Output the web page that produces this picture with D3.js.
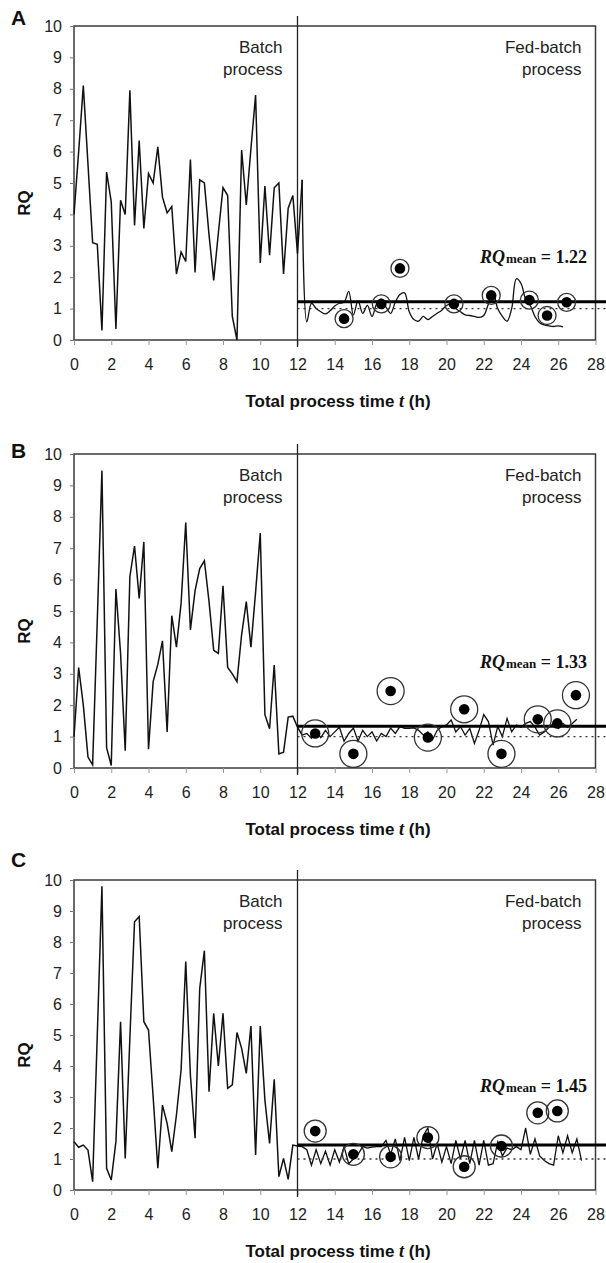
<!DOCTYPE html>
<html>
<head>
<meta charset="utf-8">
<script src="https://cdn.jsdelivr.net/npm/d3@7"></script>
<style>
  html, body { margin: 0; padding: 0; background: #fff; }
  svg { display: block; }
</style>
</head>
<body>
<svg id="chart" width="606" height="1263"></svg>
<script>
// ---------------- DATA ----------------
const xTickLabels = [0, 2, 4, 6, 8, 10, 12, 14, 16, 18, 20, 22, 24, 26, 28];
const yTickLabels = [0, 1, 2, 3, 4, 5, 6, 7, 8, 9, 10];
const panelLetters = ["A", "B", "C"];
const phaseLabels = [["Batch", "process"], ["Fed-batch", "process"]];
const sampleStep = 0.25;     // h between RQ samples, starting at t = 0
const feedStart = 12;        // h, switch from batch to fed-batch

// Panel A: RQ every 0.25 h from t = 0
const rqA = [4.0, 6.0, 8.1, 5.6, 3.1, 3.05, 0.3, 5.35, 4.4, 0.35, 4.45, 4.0, 7.95, 3.65, 6.35, 3.55,
  5.3, 5.0, 6.15, 4.55, 4.05, 4.25, 2.1, 2.8, 2.5, 5.75, 2.15, 5.1, 5.0, 3.35, 1.9, 3.4,
  4.85, 4.6, 0.75, 0.0, 6.05, 4.3, 6.1, 7.8, 2.45, 4.9, 2.7, 4.85, 5.0, 2.1, 4.2, 4.6,
  2.75, 5.1,
  0.58, 1.17, 1.0, 0.9, 0.83, 0.93, 1.08, 1.17, 1.2, 1.55, 0.8, 1.25, 0.85, 1.1, 0.75, 1.15,
  1.3, 1.05, 0.85, 1.2, 1.45, 1.5, 0.9, 0.65, 0.6, 0.75, 0.65, 0.75, 0.85, 0.95, 1.1, 1.15,
  1.0, 0.9, 0.8, 0.78, 0.75, 0.72, 0.78, 1.15, 1.5, 1.0, 0.75, 0.6, 1.0, 1.95, 1.8, 1.3,
  1.1, 0.75, 0.55, 0.48, 0.45, 0.43, 0.45, 0.42];
// Panel B
const rqB = [1.0, 3.2, 2.0, 0.35, 0.1, 4.7, 9.47, 0.65, 0.08, 5.7, 3.65, 0.55, 6.1, 7.07, 5.4, 7.2,
  0.6, 2.75, 3.3, 4.05, 1.15, 4.85, 3.85, 5.25, 7.82, 4.4, 5.65, 6.35, 6.6, 5.3, 3.75, 3.65,
  5.8, 3.2, 3.0, 2.75, 4.25, 5.3, 3.85, 5.6, 7.48, 1.7, 1.25, 3.28, 0.45, 0.5, 1.62, 1.65,
  1.3,
  1.05, 1.1, 0.95, 1.15, 0.97, 1.2, 1.0, 1.15, 1.3, 0.85, 1.1, 1.27, 0.85, 1.2, 1.0, 1.15,
  0.86, 1.1, 1.0, 1.27, 1.1, 1.32, 1.26, 1.26, 1.28, 1.2, 1.05, 1.15, 0.9, 1.2, 1.32, 1.37,
  1.53, 1.15, 1.32, 1.05, 1.26, 0.78, 1.2, 1.7, 1.48, 0.73, 1.32, 1.0, 1.58, 1.15, 1.37, 1.3,
  1.42, 1.48, 1.3, 1.05, 1.15, 1.3, 1.42, 1.26, 1.42, 1.3, 1.42, 1.55];
// Panel C
const rqC = [1.56, 1.38, 1.45, 1.29, 0.27, 5.0, 9.8, 0.7, 0.32, 1.56, 5.43, 1.02, 4.9, 8.65, 8.82, 5.43,
  5.16, 3.0, 0.7, 2.74, 2.15, 1.24, 2.42, 3.87, 7.37, 3.7, 1.67, 6.5, 7.72, 3.17, 5.7, 4.0,
  5.7, 3.28, 3.39, 5.08, 4.57, 3.76, 5.29, 1.13, 5.29, 2.9, 1.5, 3.57, 0.43, 1.02, 0.34, 1.45,
  1.42,
  1.4, 1.3, 0.8, 1.3, 0.85, 1.25, 0.8, 1.3, 0.9, 1.4, 0.85, 1.0, 1.15, 1.4, 1.35, 1.38,
  1.4, 1.4, 1.6, 1.15, 1.65, 0.95, 1.7, 0.95, 1.7, 1.0, 1.75, 2.0, 1.0, 1.5, 0.9, 1.4,
  0.85, 1.6, 1.0, 1.6, 0.85, 1.6, 0.8, 1.6, 0.8, 0.85, 1.55, 1.1, 1.35, 1.3, 1.4, 1.3,
  2.0, 1.15, 1.65, 1.1, 0.95, 0.85, 0.8, 1.75, 1.2, 1.75, 1.2, 1.65, 0.95];

// Circled (marked) RQ points
const markTA = [14.5, 16.5, 17.5, 20.4, 22.4, 24.45, 25.4, 26.45];
const markRqA = [0.68, 1.15, 2.28, 1.15, 1.42, 1.27, 0.78, 1.2];
const markTB = [12.95, 15, 17, 19, 20.95, 22.95, 24.9, 25.95, 26.95];
const markRqB = [1.1, 0.45, 2.45, 0.97, 1.87, 0.45, 1.55, 1.42, 2.32];
const markTC = [12.95, 15, 17, 19, 20.95, 22.95, 24.9, 25.95];
const markRqC = [1.9, 1.15, 1.07, 1.69, 0.75, 1.42, 2.49, 2.55];

const rqMeans = [1.22, 1.33, 1.45];
const rqReference = 1;

// ---------------- LAYOUT ----------------
const W = 606;
const plotLeft = 74, plotRight = 595.5;
const panels = [
  { rq: rqA, mt: markTA, mr: markRqA, top: 26,  bottom: 340,  ring: 9,    smoothFed: true,  meanLabelUp: 77,  letterY: 25 },
  { rq: rqB, mt: markTB, mr: markRqB, top: 454, bottom: 768,  ring: 13.5, smoothFed: false, meanLabelUp: 100, letterY: 458 },
  { rq: rqC, mt: markTC, mr: markRqC, top: 880, bottom: 1190, ring: 11,   smoothFed: false, meanLabelUp: 98,  letterY: 867 }
];

const svg = d3.select("#chart");
const sans = "'Liberation Sans', Arial, sans-serif";
const serif = "'Liberation Serif', 'Times New Roman', serif";

const x = d3.scaleLinear().domain([0, 28]).range([plotLeft, plotRight]);

panels.forEach((p, pi) => {
  const y = d3.scaleLinear().domain([0, 10]).range([p.bottom, p.top]);
  const g = svg.append("g");

  // frame
  g.append("rect")
    .attr("x", plotLeft).attr("y", p.top)
    .attr("width", plotRight - plotLeft).attr("height", p.bottom - p.top)
    .attr("fill", "none").attr("stroke", "#3a3a3a").attr("stroke-width", 1.5);

  // y axis
  const ya = g.append("g").attr("transform", `translate(${plotLeft},0)`)
    .call(d3.axisLeft(y).tickValues(yTickLabels).tickSize(4).tickPadding(8).tickFormat(d3.format("d")));
  ya.select(".domain").remove();
  ya.selectAll(".tick line").attr("stroke", "#777").attr("stroke-width", 1);
  ya.selectAll("text").attr("font-family", sans).attr("font-size", 16).attr("fill", "#222");

  // x axis
  const xa = g.append("g").attr("transform", `translate(0,${p.bottom})`)
    .call(d3.axisBottom(x).tickValues(xTickLabels).tickSize(5).tickPadding(14).tickFormat(d3.format("d")));
  xa.select(".domain").remove();
  xa.selectAll(".tick line").attr("stroke", "#999").attr("stroke-width", 1);
  xa.selectAll("text").attr("font-family", sans).attr("font-size", 16).attr("fill", "#222");

  // x title
  const xt = g.append("text")
    .attr("x", 338).attr("y", p.bottom + 67)
    .attr("text-anchor", "middle")
    .attr("font-family", sans).attr("font-size", 17).attr("font-weight", "bold").attr("fill", "#111");
  xt.append("tspan").text("Total process time ");
  xt.append("tspan").attr("font-style", "italic").attr("font-family", serif).attr("font-size", 18).text("t");
  xt.append("tspan").text(" (h)");

  // y title
  const yc = (p.top + p.bottom) / 2 + 20;
  g.append("text")
    .attr("transform", `translate(30,${yc}) rotate(-90)`)
    .attr("text-anchor", "middle")
    .attr("font-family", sans).attr("font-size", 17).attr("font-weight", "bold").attr("fill", "#111")
    .text("RQ");

  // panel letter
  g.append("text")
    .attr("x", 11).attr("y", p.letterY)
    .attr("font-family", sans).attr("font-size", 21).attr("font-weight", "bold").attr("fill", "#111")
    .text(panelLetters[pi]);

  // phase separator at t = 12
  g.append("line")
    .attr("x1", x(feedStart)).attr("x2", x(feedStart))
    .attr("y1", p.top - 10).attr("y2", p.bottom + 7)
    .attr("stroke", "#222").attr("stroke-width", 1.3);

  // phase labels
  [[x(feedStart) - 15, phaseLabels[0]], [plotRight - 14, phaseLabels[1]]].forEach(([lx, lines]) => {
    lines.forEach((ln, li) => {
      g.append("text")
        .attr("x", lx).attr("y", p.top + 27 + li * 21.5)
        .attr("text-anchor", "end")
        .attr("font-family", sans).attr("font-size", 17).attr("fill", "#222")
        .text(ln);
    });
  });

  // data line
  const pts = p.rq.map((v, i) => [i * sampleStep, v]);
  const splitIdx = Math.round(feedStart / sampleStep) + 1;
  const batchPts = pts.slice(0, splitIdx + 1);
  const fedPts = pts.slice(splitIdx);
  const lineLin = d3.line().x(d => x(d[0])).y(d => y(d[1]));
  const lineFed = d3.line().x(d => x(d[0])).y(d => y(d[1]))
    .curve(p.smoothFed ? d3.curveCatmullRom.alpha(0.5) : d3.curveLinear);
  g.append("path").attr("d", lineLin(batchPts))
    .attr("fill", "none").attr("stroke", "#111").attr("stroke-width", 1.5).attr("stroke-linejoin", "miter");
  g.append("path").attr("d", lineFed(fedPts))
    .attr("fill", "none").attr("stroke", "#111").attr("stroke-width", 1.3);

  // reference line RQ = 1 (dotted)
  g.append("line")
    .attr("x1", x(feedStart)).attr("x2", W)
    .attr("y1", y(rqReference)).attr("y2", y(rqReference))
    .attr("stroke", "#333").attr("stroke-width", 1.3).attr("stroke-dasharray", "2,4");

  // mean line
  g.append("line")
    .attr("x1", x(feedStart)).attr("x2", W)
    .attr("y1", y(rqMeans[pi])).attr("y2", y(rqMeans[pi]))
    .attr("stroke", "#000").attr("stroke-width", 3);

  // markers
  const marks = p.mt.map((t, i) => [t, p.mr[i]]);
  g.selectAll(".ring").data(marks).enter().append("circle")
    .attr("cx", d => x(d[0])).attr("cy", d => y(d[1])).attr("r", p.ring)
    .attr("fill", "none").attr("stroke", "#333").attr("stroke-width", 1.3);
  g.selectAll(".dot").data(marks).enter().append("circle")
    .attr("cx", d => x(d[0])).attr("cy", d => y(d[1])).attr("r", 5.3)
    .attr("fill", "#000");

  // mean label
  const mt = g.append("text")
    .attr("x", 587).attr("y", p.bottom - p.meanLabelUp)
    .attr("text-anchor", "end")
    .attr("font-family", serif).attr("font-weight", "bold").attr("font-size", 18).attr("fill", "#111");
  mt.append("tspan").attr("font-style", "italic").text("RQ");
  mt.append("tspan").attr("font-size", 13).attr("dx", 1).text("mean");
  mt.append("tspan").text(" = " + rqMeans[pi].toFixed(2));
});
</script>
</body>
</html>
